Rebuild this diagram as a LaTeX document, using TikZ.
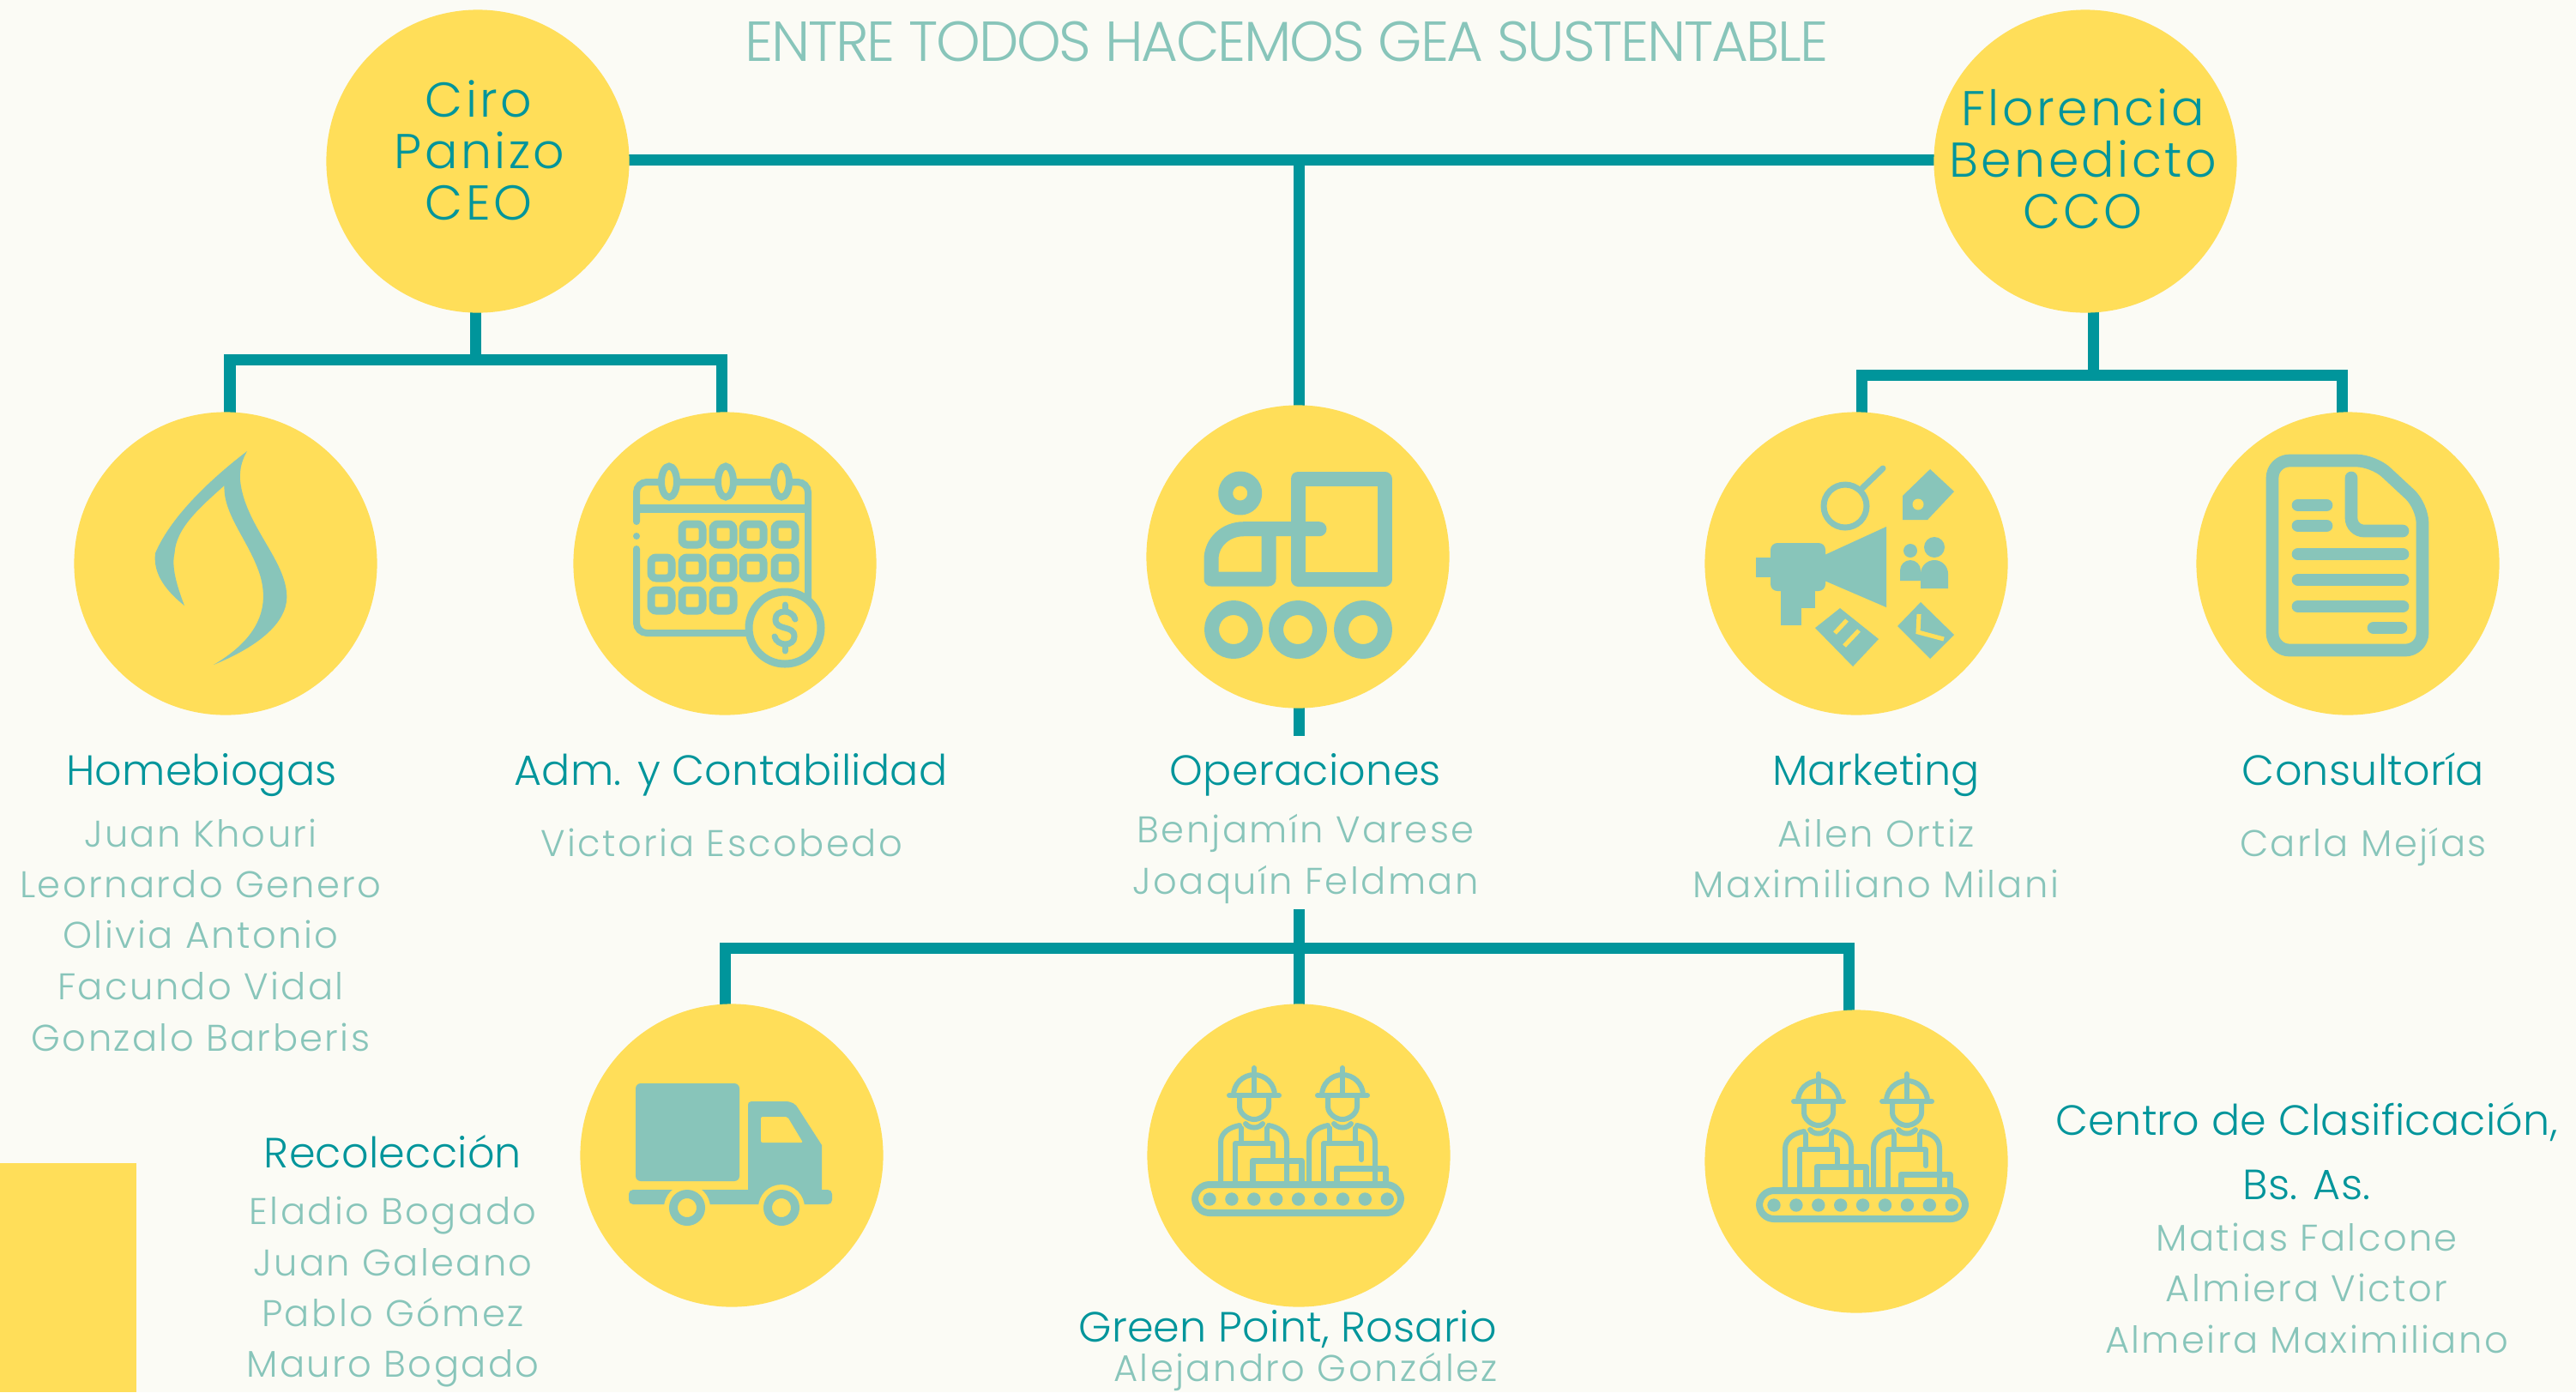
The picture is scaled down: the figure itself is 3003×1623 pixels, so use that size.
\documentclass[tikz,border=0pt]{standalone}
\usepackage{fontspec}
\setmainfont{Poppins}[UprightFont=* Light]
\newfontfamily\ftitle{Poppins}[UprightFont=* Light,LetterSpace=-3.4]
\newfontfamily\fhead{Poppins}[UprightFont=* Light,LetterSpace=0.5]
\newfontfamily\fname{Poppins}[UprightFont=* Light,LetterSpace=5.5]
\newfontfamily\fboss{Poppins}[UprightFont=* Light,LetterSpace=6]
\usetikzlibrary{backgrounds,calc}
\definecolor{pagebg}{HTML}{FBFBF5}
\definecolor{sun}{HTML}{FFDE59}
\definecolor{deep}{HTML}{00959B}
\definecolor{mint}{HTML}{88C5BA}
\tikzset{
  disc/.style={circle,fill=sun,minimum size=3.53cm,inner sep=0pt,text=deep},
  conn/.style={draw=deep,line width=0.13cm},
  headtxt/.style={anchor=base,inner sep=0pt,text=deep,font=\fhead\fontsize{14}{16}\selectfont},
  nametxt/.style={anchor=base,inner sep=0pt,text=mint,font=\fname\fontsize{12.3}{14}\selectfont},
  bosstxt/.style={anchor=base,inner sep=0pt,text=deep,font=\fboss\fontsize{16.2}{19}\selectfont},
  ico/.style={draw=mint,line width=0.17cm,line join=round,line cap=round},
  thinic/.style={draw=mint,line width=0.06cm,line join=round,line cap=round},
  hole/.style={fill=sun,draw=none},
}
\newcommand{\workerfig}[1]{%
  \begin{scope}[shift={(#1,0)}]
    \draw[thinic] (-29,1277) -- (29,1277);
    \draw[thinic] (-24,1277) arc[start angle=180,end angle=360,radius=24];
    \draw[thinic] (0,1245) -- (0,1275);
    \draw[thinic] (-17,1279) -- (-17,1290) .. controls (-17,1298) and (-8,1305) .. (0,1305) .. controls (8,1305) and (17,1298) .. (17,1290) -- (17,1279);
    \draw[thinic] (-10,1310) .. controls (-5,1316) and (5,1316) .. (10,1310);
    \draw[thinic] (-39,1377) -- (-39,1332) .. controls (-39,1320) and (-28,1314) .. (-17,1312);
    \draw[thinic] (38,1377) -- (38,1332) .. controls (38,1320) and (28,1314) .. (17,1312);
    \draw[thinic] (-22,1377) -- (-22,1333) -- (22,1333) -- (22,1352);
    \draw[thinic] (-15,1333) -- (-15,1315);
    \draw[thinic] (15,1333) -- (15,1315);
  \end{scope}}
\newcommand{\conveyoricon}{%
  \draw[thinic,line width=0.08cm,rounded corners=0.17cm] (1393,1381) rectangle (1633,1414);
  \foreach \k in {0,...,8} \fill[mint] ({1410+25.9*\k},1398) circle[radius=7.7];
  \workerfig{1462}
  \workerfig{1565}
  \draw[thinic,line width=0.07cm] (1460,1377) -- (1460,1353) -- (1517,1353) -- (1517,1377);
  \draw[thinic,line width=0.07cm] (1558,1377) -- (1558,1362) -- (1615,1362) -- (1615,1377);
}
\begin{document}
\begin{tikzpicture}[x=0.01cm,y=-0.01cm]
\useasboundingbox (0,0) rectangle (3003,1623);
% discs
\node[disc] (ciro) at (557,188) {};
\node[disc] (flor) at (2431,188) {};
\node[disc] (homeb) at (263,657) {};
\node[disc] (adm) at (845,657) {};
\node[disc] (oper) at (1513,649) {};
\node[disc] (mark) at (2164,657) {};
\node[disc] (cons) at (2737,657) {};
\node[disc] (recol) at (853,1347) {};
\node[disc] (green) at (1514,1347) {};
\node[disc] (centro) at (2164,1354) {};
% junctions
\coordinate (cirobus) at (554,419.5);
\coordinate (florbus) at (2440,437);
\coordinate (opbus) at (1514.5,1105.5);
\coordinate (topmid) at (1514.5,186.5);
\coordinate (opgapa) at (1514.5,858);
\coordinate (opgapb) at (1514.5,1060);
\coordinate (hbx) at (268,419.5);
\coordinate (admx) at (841,419.5);
\coordinate (mkx) at (2170,437);
\coordinate (cnx) at (2730,437);
\coordinate (rcx) at (845,1105.5);
\coordinate (ctx) at (2155,1105.5);
\begin{scope}[on background layer]
  \fill[pagebg] (0,0) rectangle (3003,1623);
  \fill[sun] (0,1356) rectangle (159,1623);
  \draw[conn] (topmid -| ciro.center) -- (topmid -| flor.center);
  \draw[conn] (topmid) -- (topmid |- oper.center);
  \draw[conn] (topmid |- oper.center) -- (opgapa);
  \draw[conn] (cirobus) -- (cirobus |- ciro.center);
  \draw[conn,line cap=rect] (hbx) -- (admx);
  \draw[conn] (hbx) -- (hbx |- homeb.center);
  \draw[conn] (admx) -- (admx |- adm.center);
  \draw[conn] (florbus) -- (florbus |- flor.center);
  \draw[conn,line cap=rect] (mkx) -- (cnx);
  \draw[conn] (mkx) -- (mkx |- mark.center);
  \draw[conn] (cnx) -- (cnx |- cons.center);
  \draw[conn] (opgapb) -- (opgapb |- green.center);
  \draw[conn,line cap=rect] (rcx) -- (ctx);
  \draw[conn] (rcx) -- (rcx |- recol.center);
  \draw[conn] (ctx) -- (ctx |- centro.center);
\end{scope}
% title
\node[anchor=base,inner sep=0pt,text=mint,font=\ftitle\fontsize{18.7}{20}\selectfont] (title) at (1500,71) {ENTRE TODOS HACEMOS GEA SUSTENTABLE};
% boss labels
\node[bosstxt] (cirot1) at (558,136) {Ciro};
\node[bosstxt] (cirot2) at (559,196) {Panizo};
\node[bosstxt] (cirot3) at (558,256) {CEO};
\node[bosstxt] (flot1) at (2428,146) {Florencia};
\node[bosstxt] (flot2) at (2428,206) {Benedicto};
\node[bosstxt] (flot3) at (2428,266) {CCO};
% section labels
\node[headtxt] (h1) at (235,915) {Homebiogas};
\node[nametxt] (n11) at (234,987) {Juan Khouri};
\node[nametxt] (n12) at (234,1046) {Leornardo Genero};
\node[nametxt] (n13) at (234,1105) {Olivia Antonio};
\node[nametxt] (n14) at (234,1165) {Facundo Vidal};
\node[nametxt] (n15) at (234,1225) {Gonzalo Barberis};
\node[headtxt] (h2) at (852,915) {Adm. y Contabilidad};
\node[nametxt] (n21) at (841,998) {Victoria Escobedo};
\node[headtxt] (h3) at (1522,915) {Operaciones};
\node[nametxt] (n31) at (1522,982) {Benjamín Varese};
\node[nametxt] (n32) at (1522,1042) {Joaquín Feldman};
\node[headtxt] (h4) at (2187,915) {Marketing};
\node[nametxt] (n41) at (2187,987) {Ailen Ortiz};
\node[nametxt] (n42) at (2187,1046) {Maximiliano Milani};
\node[headtxt] (h5) at (2755,915) {Consultoría};
\node[nametxt] (n51) at (2755,998) {Carla Mejías};
\node[headtxt] (h6) at (458,1361) {Recolección};
\node[nametxt] (n61) at (458,1427) {Eladio Bogado};
\node[nametxt] (n62) at (458,1487) {Juan Galeano};
\node[nametxt] (n63) at (458,1546) {Pablo Gómez};
\node[nametxt] (n64) at (458,1605) {Mauro Bogado};
\node[headtxt] (h7) at (1501,1564) {Green Point, Rosario};
\node[nametxt] (n71) at (1522,1610) {Alejandro González};
\node[headtxt] (h8a) at (2689,1323) {Centro de Clasificación,};
\node[headtxt] (h8b) at (2689,1398) {Bs. As.};
\node[nametxt] (n81) at (2689,1458) {Matias Falcone};
\node[nametxt] (n82) at (2689,1517) {Almiera Victor};
\node[nametxt] (n83) at (2689,1577) {Almeira Maximiliano};
% flame
\fill[mint] (288,526) .. controls (250,555) and (200,600) .. (181,645)
  .. controls (178,670) and (195,690) .. (215,706)
  .. controls (205,680) and (200,660) .. (203.5,645)
  .. controls (205,615) and (235,590) .. (261.5,566)
  .. controls (260,600) and (290,630) .. (303,670)
  .. controls (315,710) and (300,745) .. (249,775)
  .. controls (310,750) and (338,720) .. (334,690)
  .. controls (330,650) and (285,610) .. (280,560)
  .. controls (279,545) and (283,535) .. (288,526) -- cycle;
% calendar
\draw[mint,line width=0.08cm,line cap=round,rounded corners=0.12cm] (742,608) -- (742,562) -- (942,562) -- (942,700);
\draw[mint,line width=0.08cm,line cap=round,rounded corners=0.12cm] (742,640) -- (742,738) -- (880,738);
\fill[mint] (742,625) circle[radius=4];
\draw[mint,line width=0.1cm] (742,593) -- (942,593);
\foreach \cx in {780,846,911} {
  \draw[mint,fill=sun,line width=0.08cm] (\cx,561.5) ellipse[x radius=9,y radius=18];
}
\foreach \cx/\cy in {807/623,843/623,878/623,915/623,771/662,807/662,843/662,878/662,915/662,771/700,807/700,843/700} {
  \draw[mint,line width=0.09cm,rounded corners=0.06cm] ($(\cx,\cy)+(-12,-12)$) rectangle ($(\cx,\cy)+(12,12)$);
}
\draw[mint,fill=sun,line width=0.09cm] (915,732) circle[radius=42];
\draw[mint,line width=0.07cm,line cap=round] (927,722) .. controls (924,710) and (904,710) .. (904,722) .. controls (904,736) and (926,728) .. (926,742) .. controls (926,754) and (906,754) .. (903,742);
\draw[mint,line width=0.07cm,line cap=round] (915,705) -- (915,712) (915,752) -- (915,759);
% operations icon
\draw[ico] (1445.7,575) circle[radius=17];
\draw[ico] (1538,616.7) -- (1450,616.7) .. controls (1428,616.7) and (1412,633) .. (1412,652) -- (1412,675) -- (1479,675) -- (1479,616.7);
\draw[ico] (1513,558) rectangle (1614,675);
\foreach \wx in {1438,1513,1589} \draw[ico] (\wx,734) circle[radius=25.5];
% marketing icon
\fill[mint] (2127,647) -- (2199,614) -- (2199,708) -- (2127,677) -- cycle;
\fill[mint,rounded corners=0.08cm] (2064,633) rectangle (2128,689);
\fill[mint] (2047,650) rectangle (2066,673);
\fill[mint] (2076,688) rectangle (2116,709);
\fill[mint] (2076,705) rectangle (2100,729);
\draw[mint,line width=0.07cm] (2151,590) circle[radius=25];
\draw[mint,line width=0.07cm,line cap=round] (2171,569) -- (2195,546);
\fill[mint] (2250,547) -- (2278,573) -- (2247,606) -- (2218,606) -- (2218,578) -- cycle;
\fill[hole] (2236,588) circle[radius=6.5];
\fill[mint] (2227,642) circle[radius=8];
\fill[mint] (2255,638) circle[radius=12];
\fill[mint] (2215,677) -- (2215,665) arc[start angle=180,end angle=360,radius=12] -- (2239,677) -- cycle;
\fill[mint] (2239,686) -- (2239,669) arc[start angle=180,end angle=360,radius=16] -- (2271,686) -- cycle;
\fill[mint] (2145,709) -- (2190,745) -- (2160,777) -- (2116,732) -- cycle;
\draw[sun,line width=0.05cm] (2153,723) -- (2139,738) (2167,735) -- (2150,753);
\fill[mint] (2239,702) -- (2278,740) -- (2250,768) -- (2212,730) -- cycle;
\draw[sun,line width=0.05cm] (2237,716) -- (2236,737) -- (2266,745);
% document icon
\draw[mint,line width=0.147cm,line join=round,rounded corners=0.2cm] (2649,537) -- (2767,537) -- (2824,590) -- (2824,758) -- (2649,758) -- cycle;
\draw[mint,line width=0.147cm,line cap=round,rounded corners=0.15cm] (2741,557) -- (2741,619) -- (2801,619);
\draw[mint,line width=0.147cm,line cap=round] (2679,589) -- (2712,589) (2679,613) -- (2712,613)
  (2679,646) -- (2801,646) (2679,676) -- (2801,676) (2679,707) -- (2801,707) (2767,732) -- (2799,732);
% truck icon
\fill[mint,rounded corners=0.06cm] (741,1263) rectangle (862,1377);
\fill[mint,rounded corners=0.05cm] (733,1387) rectangle (970,1404);
\fill[mint] (872,1395) -- (872,1288) .. controls (872,1286) and (873,1284) .. (876,1284) -- (915,1284) .. controls (923,1284) and (928,1287) .. (931,1293) -- (958,1335) -- (958,1395) -- cycle;
\fill[hole,rounded corners=0.02cm] (887,1302) -- (918,1302) -- (936,1332) -- (887,1332) -- cycle;
\fill[hole] (801,1408) circle[radius=27];
\fill[hole] (911,1408) circle[radius=27];
\draw[mint,line width=0.1cm] (801,1408) circle[radius=16];
\draw[mint,line width=0.1cm] (911,1408) circle[radius=16];
% worker icons
\conveyoricon
\begin{scope}[shift={(658,7)}]
\conveyoricon
\end{scope}
\end{tikzpicture}
\end{document}
